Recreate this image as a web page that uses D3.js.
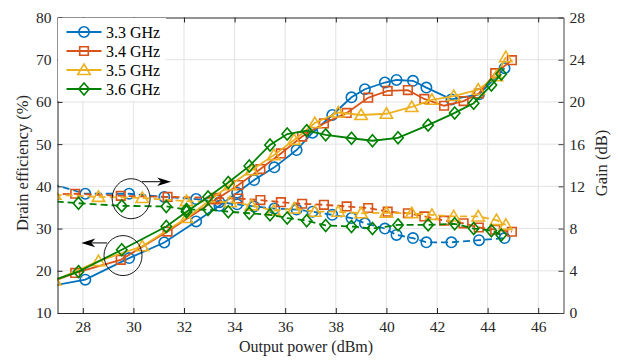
<!DOCTYPE html>
<html><head><meta charset="utf-8">
<script src="https://cdn.jsdelivr.net/npm/d3@7"></script>
<style>
html,body{margin:0;padding:0;background:#fff;}
svg{display:block;}
</style></head>
<body><svg id="c" width="618" height="360" font-family="Liberation Serif"></svg>
<script>
// ---- data ----
const seriesNames = ["3.3 GHz","3.4 GHz","3.5 GHz","3.6 GHz"];
const xTicks = [28,30,32,34,36,38,40,42,44,46];
const effTicks = [10,20,30,40,50,60,70,80];
const gainTicks = [0,4,8,12,16,20,24,28];

const pout33 = [26.37,28.1,29.83,31.22,32.48,33.4,34.1,34.77,35.57,36.45,37.08,37.86,38.62,39.15,39.94,40.4,41.05,41.58,42.57,43.66,44.67];
const eff33  = [16.0,17.9,23.0,26.7,31.7,35.4,38.5,41.5,44.5,48.6,52.7,56.9,61.1,63.0,64.6,65.2,65.0,63.4,60.6,61.8,68.0];
const gain33 = [12.5,11.3,11.3,11.0,10.8,10.5,10.3,10.1,9.9,9.8,9.6,9.3,9.0,8.5,8.0,7.4,7.1,6.7,6.7,6.9,7.1];

const pout34 = [25.9,27.7,29.5,31.35,33.27,34.15,35.02,35.83,36.67,37.53,38.43,39.28,40.05,40.85,41.5,42.28,43.05,43.65,44.3,44.96];
const eff34  = [15.4,19.5,22.6,29.3,36.9,40.3,44.1,47.8,51.8,54.9,57.4,61.0,62.6,62.8,60.7,59.1,60.2,62.0,66.8,69.9];
const gain34 = [11.17,11.3,11.1,11.0,10.9,10.85,10.7,10.5,10.35,10.25,10.1,9.95,9.6,9.45,9.15,8.75,8.5,8.1,7.9,7.7];

const pout35 = [26.89,28.62,30.35,32.1,33.82,34.67,35.55,36.35,37.17,38.1,39.0,40.0,41.0,41.8,42.66,43.63,44.35,44.72];
const eff35  = [17.7,22.3,25.8,32.5,40.3,43.8,47.4,51.0,55.0,57.5,56.9,57.2,58.8,60.5,61.4,62.9,66.1,70.6];
const gain35 = [11.2,11.0,10.9,10.6,10.5,10.2,9.7,9.9,9.6,9.6,9.45,9.5,9.45,9.3,9.15,9.15,8.8,8.35];

const pout36 = [26.1,27.83,29.54,31.3,32.1,32.95,33.75,34.58,35.4,36.08,36.85,37.6,38.62,39.45,40.46,41.65,42.7,43.45,44.15,44.54];
const eff36  = [16.25,19.8,25.0,30.5,34.0,37.5,40.9,44.8,49.8,52.4,53.2,52.2,51.4,50.8,51.5,54.5,57.4,59.7,64.0,66.6];
const gain36 = [10.7,10.4,10.15,10.1,9.8,9.8,9.6,9.45,9.3,9.0,8.75,8.3,8.2,8.0,8.35,8.35,8.45,8.0,7.8,7.4];

// annotations (data coords): ellipse centers and arrow ends
const annoCircles = [{x:29.91, g:10.83}, {x:29.59, e:23.6}];
const annoArrows = [{x1:30.34, x2:31.49, g:12.44}, {x1:28.96, x2:27.94, e:26.6}];

// ---- layout ----
const L=57.5, R=563.5, T=17.5, B=313;
const FONT = "Liberation Serif";
const colors = ["#0072BD","#D95319","#EDB120","#008000"];
const svg = d3.select("#c");
const x = d3.scaleLinear([27,47],[L,R]);
const yL = d3.scaleLinear([10,80],[B,T]);
const yR = d3.scaleLinear([0,28],[B,T]);

// custom symbols
const symCircle = {draw(c,s){const r=5.2;c.moveTo(r,0);c.arc(0,0,r,0,2*Math.PI);}};
const symSquare = {draw(c,s){const h=4.3;c.rect(-h,-h,2*h,2*h);}};
const symTri = {draw(c,s){c.moveTo(0,-6);c.lineTo(6.2,4.5);c.lineTo(-6.2,4.5);c.closePath();}};
const symDia = {draw(c,s){c.moveTo(0,-6);c.lineTo(5.2,0);c.lineTo(0,6);c.lineTo(-5.2,0);c.closePath();}};
const symbols = [symCircle,symSquare,symTri,symDia];

const series = [
  {p:pout33,e:eff33,g:gain33},
  {p:pout34,e:eff34,g:gain34},
  {p:pout35,e:eff35,g:gain35},
  {p:pout36,e:eff36,g:gain36}
];

// grid
const grid = svg.append("g");
grid.selectAll("line.v").data(xTicks).join("line")
  .attr("x1",d=>x(d)).attr("x2",d=>x(d)).attr("y1",T).attr("y2",B)
  .attr("stroke","#e3e3e3").attr("stroke-width",1);
grid.selectAll("line.h").data(effTicks.slice(1,-1)).join("line")
  .attr("x1",L).attr("x2",R).attr("y1",d=>yL(d)).attr("y2",d=>yL(d))
  .attr("stroke","#e3e3e3").attr("stroke-width",1);

svg.append("clipPath").attr("id","clip").append("rect")
  .attr("x",L).attr("y",T).attr("width",R-L).attr("height",B-T);

const plot = svg.append("g").attr("clip-path","url(#clip)");

series.forEach((s,i)=>{
  const pts = s.p.map((p,k)=>({p, e:s.e[k], g:s.g[k]}));
  const le = d3.line().x(d=>x(d.p)).y(d=>yL(d.e));
  const lg = d3.line().x(d=>x(d.p)).y(d=>yR(d.g));
  plot.append("path").datum(pts).attr("d",lg).attr("fill","none")
    .attr("stroke",colors[i]).attr("stroke-width",1.8).attr("stroke-dasharray","7,4");
  plot.append("path").datum(pts).attr("d",le).attr("fill","none")
    .attr("stroke",colors[i]).attr("stroke-width",1.8);
  const sym = d3.symbol().type(symbols[i]);
  plot.append("g").selectAll("path").data(pts).join("path")
    .attr("d",sym).attr("transform",d=>`translate(${x(d.p)},${yL(d.e)})`)
    .attr("fill","none").attr("stroke",colors[i]).attr("stroke-width",1.6);
  plot.append("g").selectAll("path").data(pts).join("path")
    .attr("d",sym).attr("transform",d=>`translate(${x(d.p)},${yR(d.g)})`)
    .attr("fill","none").attr("stroke",colors[i]).attr("stroke-width",1.6);
});

// annotations
const ann = svg.append("g");
annoCircles.forEach(c=>{
  const cy = c.g!==undefined ? yR(c.g) : yL(c.e);
  ann.append("ellipse").attr("cx",x(c.x)).attr("cy",cy).attr("rx",19).attr("ry",20)
    .attr("fill","none").attr("stroke","#000").attr("stroke-width",0.9);
});
annoArrows.forEach(a=>{
  const y = a.g!==undefined ? yR(a.g) : yL(a.e);
  const x1=x(a.x1), x2=x(a.x2), dir = Math.sign(x2-x1);
  ann.append("line").attr("x1",x1).attr("x2",x2-dir*6).attr("y1",y).attr("y2",y)
    .attr("stroke","#000").attr("stroke-width",1);
  ann.append("path").attr("d",d3.line()([[x2,y],[x2-dir*14,y-4.3],[x2-dir*10,y],[x2-dir*14,y+4.3]])+"Z")
    .attr("fill","#000");
});

// axes
const axColor="#262626";
const fs = "15.5px";
const xb = svg.append("g").attr("transform",`translate(0,${B})`)
  .call(d3.axisBottom(x).tickValues(xTicks).tickSizeInner(-5).tickSizeOuter(0).tickPadding(8));
const xt = svg.append("g").attr("transform",`translate(0,${T})`)
  .call(d3.axisTop(x).tickValues(xTicks).tickSizeInner(-5).tickSizeOuter(0).tickFormat(""));
const yl = svg.append("g").attr("transform",`translate(${L},0)`)
  .call(d3.axisLeft(yL).tickValues(effTicks).tickSizeInner(-5).tickSizeOuter(0).tickPadding(6));
const yr = svg.append("g").attr("transform",`translate(${R},0)`)
  .call(d3.axisRight(yR).tickValues(gainTicks).tickSizeInner(-5).tickSizeOuter(0).tickPadding(6));
[xb,xt,yl,yr].forEach(g=>{
  g.attr("font-family",FONT);
  g.select(".domain").attr("stroke",axColor).attr("stroke-width",1);
  g.selectAll(".tick line").attr("stroke",axColor);
  g.selectAll("text").attr("fill",axColor).attr("font-family",FONT).style("font-size",fs);
});
yr.select(".domain").attr("stroke","#404040");
yr.selectAll(".tick line").attr("stroke","#404040");

// axis titles
svg.append("text").attr("x",306).attr("y",352).attr("text-anchor","middle").attr("font-family",FONT)
  .style("font-size","16px").attr("fill","#262626").text("Output power (dBm)");
svg.append("text").attr("transform",`translate(28,163) rotate(-90)`).attr("text-anchor","middle").attr("font-family",FONT)
  .style("font-size","16.5px").attr("fill","#262626").text("Drain efficiency (%)");
svg.append("text").attr("transform",`translate(607,163) rotate(-90)`).attr("text-anchor","middle").attr("font-family",FONT)
  .style("font-size","16.5px").attr("fill","#262626").text("Gain (dB)");

// legend
const lg = svg.append("g");
lg.append("rect").attr("x",L+0.5).attr("y",T+0.5).attr("width",108).attr("height",83).attr("fill","#fff");
seriesNames.forEach((n,i)=>{
  const y = 32 + i*19;
  lg.append("line").attr("x1",66.5).attr("x2",101.5).attr("y1",y).attr("y2",y)
    .attr("stroke",colors[i]).attr("stroke-width",1.8);
  lg.append("path").attr("d",d3.symbol().type(symbols[i])()).attr("transform",`translate(84,${y})`)
    .attr("fill","none").attr("stroke",colors[i]).attr("stroke-width",1.6);
  lg.append("text").attr("x",106).attr("y",y+5.5).attr("font-family",FONT).style("font-size","16px").attr("fill","#000").text(n);
});
</script></body></html>
